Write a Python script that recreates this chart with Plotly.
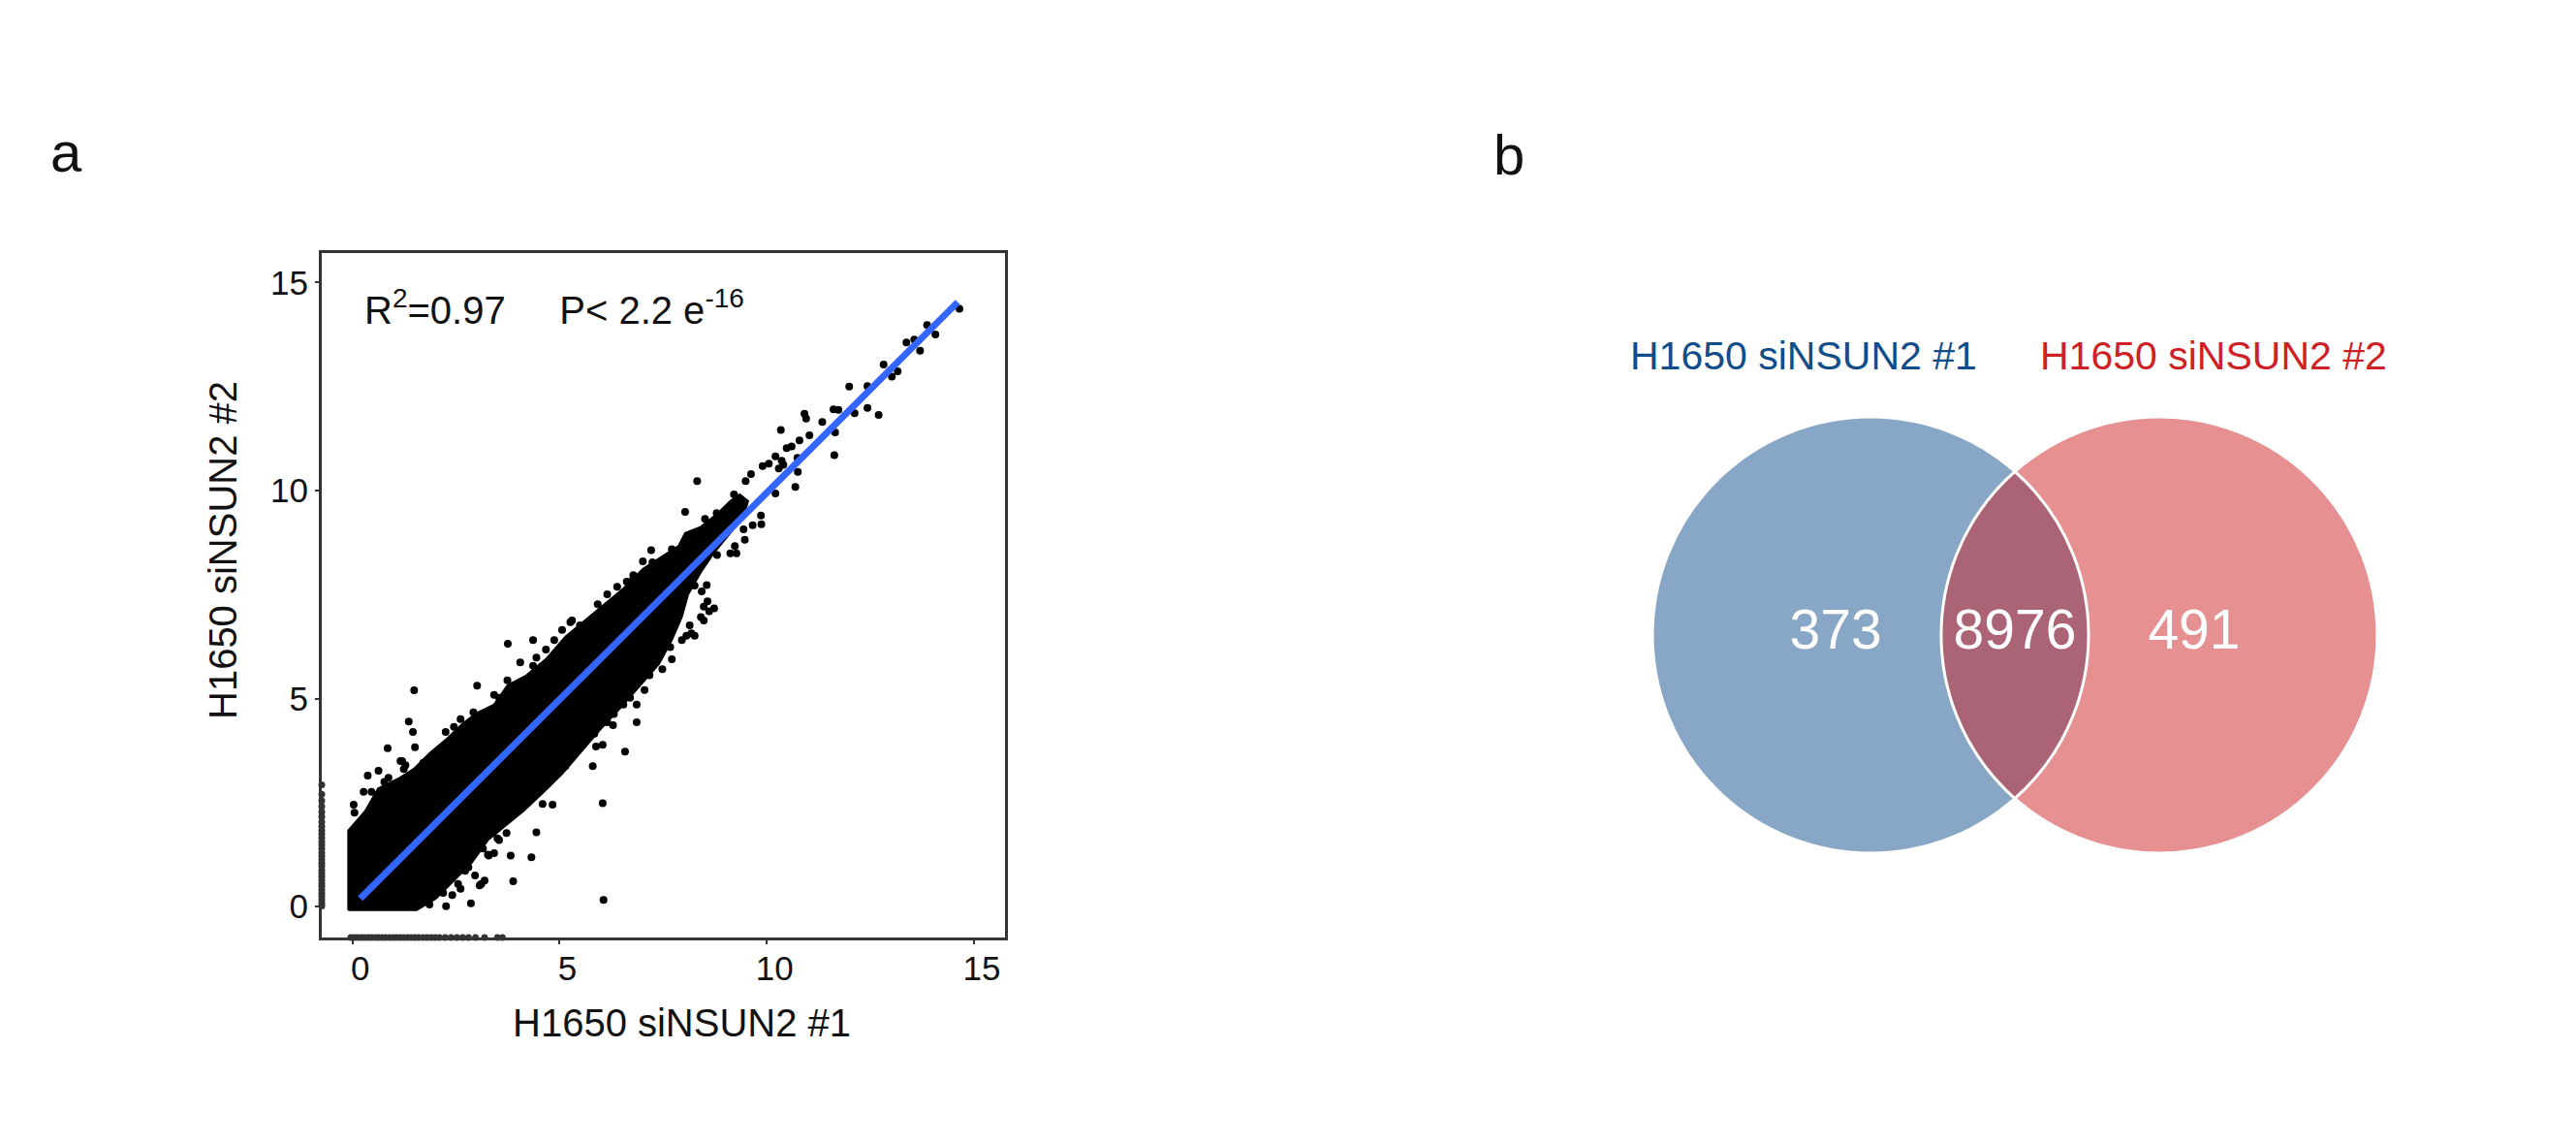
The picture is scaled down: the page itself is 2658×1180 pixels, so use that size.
import plotly.graph_objects as go

W, H = 2658, 1180
FONT = "Liberation Sans, Arial, sans-serif"

# ---------------- panel a: siNSUN2 #1 vs siNSUN2 #2 ----------------
x_title = "H1650 siNSUN2 #1"
y_title = "H1650 siNSUN2 #2"
tick_vals = [0, 5, 10, 15]
x_range = [-0.74, 15.75]
y_range = [-0.74, 15.71]

# outline of the solid black cloud of points (upper and lower side)
cloud_upper_x = [-0.10, -0.10, 0.31, 0.62, 1.09, 1.48, 1.86, 2.25, 2.65, 2.96, 3.42, 3.74, 4.20,
                 4.67, 5.14, 5.61, 6.07, 6.54, 7.01, 7.48, 7.87, 8.03, 8.41, 8.80, 9.12, 9.35, 9.55]
cloud_upper_y = [-0.08, 1.83, 2.30, 2.84, 3.07, 3.31, 3.69, 4.01, 4.39, 4.63, 4.86, 5.32, 5.56,
                 5.95, 6.49, 6.88, 7.27, 7.65, 8.12, 8.43, 8.67, 8.98, 9.13, 9.44, 9.75, 9.91, 9.75]
cloud_lower_x = [-0.10, 1.55, 2.02, 2.49, 2.88, 3.27, 3.70, 4.13, 4.59, 5.06, 5.53, 6.00, 6.47,
                 6.93, 7.40, 7.71, 7.95, 8.10, 8.41, 8.73, 9.04, 9.43, 9.55]
cloud_lower_y = [-0.08, -0.08, 0.20, 0.67, 1.06, 1.60, 1.95, 2.30, 2.73, 3.19, 3.73, 4.28, 4.78,
                 5.29, 5.83, 6.41, 6.96, 7.50, 8.04, 8.51, 8.90, 9.36, 9.75]

# single points outside or on the edge of the solid cloud
outlier_x = [14.65, 13.87, 14.07, 13.37, 13.56, 13.70, 12.82, 13.16, 13.02, 11.99, 12.43, 12.43,
             12.70, 12.12, 11.61, 11.73, 10.91, 10.95, 11.34, 11.03, 11.65, 10.34, 10.79, 10.60,
             10.48, 11.63, 10.21, 9.90, 10.05, 10.36, 10.40, 10.74, 10.75, 10.29, 10.69, 9.62,
             9.49, 10.21, 8.32, 9.21, 8.03, 8.79, 8.51, 9.86, 9.66, 9.87, 9.44, 9.47, 9.12, 9.27,
             8.80, 9.23, 7.21, 8.55, 8.43, 8.26, 8.73, 8.61, 8.48, 8.48, 8.14, 8.06, 8.26, 7.67,
             7.44, 7.01, 6.78,
             1.49, 3.01, 3.75, 4.36, 1.36, 1.46, 0.85, 1.51, 1.16, 1.28, 0.37, 0.63, 0.87, 0.03,
             0.27, 6.86, 7.05, 6.86, 6.29, 6.58, 5.80, 6.04, 5.88, 6.04, 4.59, 4.83, 4.44, 3.82,
             4.32, 3.29, 3.88, 6.06, 2.86, 3.11, 2.45, 2.61, 2.25, 2.02, 5.53, 5.30, 6.78, 6.39,
             6.15, 5.92, 5.30, 5.06,
             0.05, 1.20, 1.32, 1.01, 2.26, 3.19, 2.96, 3.07, 2.72, 2.61, 3.72, 3.54, 3.42, 3.27,
             2.92, 3.11, 3.42, 3.54, 3.74, 3.89, 4.05, 4.36, 4.44, 4.67, 4.87, 5.26, 5.49, 6.62,
             6.78, 7.24, 7.71, 0.46, 0.77, 1.71, 1.24,
             3.50, 3.89, 4.01, 4.36, 4.67, 4.83, 5.14, 5.30, 5.84, 6.15, 6.31, 6.54, 6.70, 7.17,
             7.48, 7.71, 7.95, 8.18, 8.41, 8.57, 1.86, 2.41, 2.19, 2.55, 2.80, 3.15]
outlier_y = [14.37, 13.98, 13.75, 13.56, 13.63, 13.36, 13.03, 12.87, 12.74, 12.50, 12.51, 11.99,
             11.82, 11.86, 11.95, 11.94, 11.85, 11.73, 11.65, 11.33, 11.40, 11.46, 11.21, 11.06,
             11.02, 10.85, 10.82, 10.59, 10.65, 10.72, 10.62, 10.79, 10.45, 10.53, 10.09, 10.40,
             10.23, 9.93, 10.23, 9.91, 9.49, 9.46, 9.32, 9.40, 9.17, 9.19, 9.07, 8.82, 8.49, 8.49,
             8.45, 8.67, 8.57, 7.73, 7.58, 7.72, 7.17, 7.10, 7.21, 6.88, 6.76, 6.51, 6.51, 6.24,
             6.30, 8.30, 7.90,
             5.20, 5.31, 6.32, 6.41, 4.45, 4.20, 3.81, 3.83, 3.50, 3.40, 3.15, 3.27, 3.10, 2.45,
             2.76, 4.86, 5.21, 4.43, 4.36, 3.73, 3.38, 3.89, 3.85, 2.49, 2.47, 2.45, 1.79, 1.23,
             1.19, 1.23, 0.61, 0.16, 0.08, 0.55, 4.32, 4.51, 4.20, 3.66, 4.01, 3.62, 6.80, 7.69,
             7.51, 7.27, 6.88, 6.65,
             2.26, 3.50, 3.11, 2.88, 0.01, 0.63, 0.75, 0.51, 0.86, 0.43, 1.77, 1.60, 1.29, 1.25,
             4.67, 4.63, 5.09, 5.02, 5.44, 5.32, 5.87, 5.79, 5.99, 6.18, 6.41, 6.84, 6.76, 7.81,
             7.97, 8.28, 8.59, 2.76, 3.00, 3.46, 3.31,
             1.64, 2.30, 2.45, 2.76, 2.92, 3.31, 3.38, 3.77, 4.16, 4.43, 4.63, 4.86, 5.02, 5.56,
             5.71, 5.95, 6.41, 6.57, 6.96, 7.34, 0.05, 0.28, 0.33, 0.55, 0.95, 1.40]

# points that only have a value on one axis (drawn on the frame)
left_rug_y = [0.02, 0.09, 0.17, 0.25, 0.32, 0.40, 0.49, 0.56, 0.64, 0.72, 0.80, 0.88, 0.97,
              1.05, 1.13, 1.22, 1.30, 1.39, 1.48, 1.56, 1.65, 1.74, 1.83, 1.93, 2.03, 2.16,
              2.28, 2.41, 2.55, 2.70, 2.93]
bottom_rug_x = [-0.04, 0.04, 0.12, 0.21, 0.29, 0.38, 0.46, 0.55, 0.63, 0.72, 0.80, 0.89, 0.98,
                1.06, 1.15, 1.24, 1.33, 1.42, 1.51, 1.60, 1.70, 1.80, 1.90, 2.00, 2.10, 2.24,
                2.38, 2.52, 2.66, 2.80, 2.97, 3.19, 3.50, 3.62]

# linear fit
fit_x = [0.19, 14.61]
fit_y = [0.20, 14.53]
r_squared = "0.97"
p_value = "2.2 e<sup>-16</sup>"

# ---------------- panel b: Venn diagram ----------------
set_names = ["H1650 siNSUN2 #1", "H1650 siNSUN2 #2"]
only_counts = [373, 491]
shared_count = 8976

SET_COLORS = ["rgb(17,77,139)", "rgb(205,33,37)"]
SET_FILLS = ["rgba(17,77,139,0.5)", "rgba(205,33,37,0.5)"]
FIT_COLOR = "#3366FF"
FRAME = "#333333"

# venn geometry, in units of the circle radius
VENN_OFFSET = 0.662
COUNT_POS = [-0.822, 0.0, 0.822]
NAME_POS = [-0.969, 0.911]
NAME_Y = 1.28

fig = go.Figure()

fig.add_trace(go.Scatter(
    x=cloud_upper_x + cloud_lower_x[::-1], y=cloud_upper_y + cloud_lower_y[::-1],
    mode="lines", fill="toself", fillcolor="black",
    line=dict(color="black", width=2), hoverinfo="skip", showlegend=False,
))
fig.add_trace(go.Scatter(
    x=outlier_x, y=outlier_y, mode="markers",
    marker=dict(color="black", size=8, line=dict(width=0)),
    showlegend=False,
))
fig.add_trace(go.Scatter(
    x=[x_range[0]] * len(left_rug_y), y=left_rug_y, mode="markers",
    marker=dict(color=FRAME, size=7, line=dict(width=0)),
    cliponaxis=False, showlegend=False,
))
fig.add_trace(go.Scatter(
    x=bottom_rug_x, y=[y_range[0]] * len(bottom_rug_x), mode="markers",
    marker=dict(color=FRAME, size=7, line=dict(width=0)),
    cliponaxis=False, showlegend=False,
))
fig.add_trace(go.Scatter(
    x=fit_x, y=fit_y, mode="lines", line=dict(color=FIT_COLOR, width=7),
    showlegend=False,
))

# venn counts
fig.add_trace(go.Scatter(
    x=COUNT_POS, y=[0, 0, 0], mode="text",
    text=[str(only_counts[0]), str(shared_count), str(only_counts[1])],
    textfont=dict(family=FONT, size=57, color="white"),
    xaxis="x2", yaxis="y2", showlegend=False, hoverinfo="skip",
))

axis_common = dict(
    showline=True, mirror=True, linecolor=FRAME, linewidth=3,
    showgrid=False, zeroline=False,
    ticks="outside", ticklen=4, tickwidth=2, tickcolor=FRAME,
    tickvals=tick_vals, tickfont=dict(family=FONT, size=35, color="#111111"),
)

# pixel placement of the panels
ax_left, ax_right, ax_top, ax_bottom = 332, 1037, 261, 967
vn_left, vn_right, vn_top, vn_bottom = 1600, 2560, 300, 940
vn_cx, vn_cy, vn_r = 2079, 655, 225

fig.update_layout(
    width=W, height=H,
    margin=dict(l=0, r=0, t=0, b=0),
    paper_bgcolor="white", plot_bgcolor="white",
    font=dict(family=FONT, color="#111111"),
    xaxis=dict(domain=[ax_left / W, ax_right / W], range=x_range,
               ticklabelshift=8, ticklabelstandoff=-5, **axis_common),
    yaxis=dict(domain=[1 - ax_bottom / H, 1 - ax_top / H], range=y_range, **axis_common),
    xaxis2=dict(domain=[vn_left / W, vn_right / W],
                range=[(vn_left - vn_cx) / vn_r, (vn_right - vn_cx) / vn_r],
                visible=False, anchor="y2"),
    yaxis2=dict(domain=[1 - vn_bottom / H, 1 - vn_top / H],
                range=[-(vn_bottom - vn_cy) / vn_r, (vn_cy - vn_top) / vn_r],
                visible=False, anchor="x2"),
)

# venn circles: fills, then white outlines so the shared lens is edged in white
for sign, fill in zip([-1, 1], SET_FILLS):
    fig.add_shape(type="circle", xref="x2", yref="y2", layer="below",
                  x0=sign * VENN_OFFSET - 1, x1=sign * VENN_OFFSET + 1, y0=-1, y1=1,
                  fillcolor=fill, line=dict(width=0))
for sign in [-1, 1]:
    fig.add_shape(type="circle", xref="x2", yref="y2", layer="below",
                  x0=sign * VENN_OFFSET - 1, x1=sign * VENN_OFFSET + 1, y0=-1, y1=1,
                  fillcolor="rgba(0,0,0,0)", line=dict(color="white", width=3))

for name, pos, color in zip(set_names, NAME_POS, SET_COLORS):
    fig.add_annotation(x=pos, y=NAME_Y, xref="x2", yref="y2", text=name, showarrow=False,
                       xanchor="center", yanchor="middle",
                       font=dict(family=FONT, size=41, color=color))


def paper_text(text, px, py, size, **kw):
    fig.add_annotation(x=px / W, y=1 - py / H, xref="paper", yref="paper", text=text,
                       xanchor="center", yanchor="middle", showarrow=False,
                       font=dict(size=size), **kw)


# axis titles
paper_text(x_title, 703, 1055, 40)
paper_text(y_title, 230, 568, 40, textangle=-90)

# statistics label
fig.add_annotation(
    x=0.24, y=14.4, xref="x", yref="y", xanchor="left", yanchor="middle",
    text=f"R<sup>2</sup>={r_squared}\u00a0\u00a0\u00a0\u00a0\u00a0P< {p_value}",
    showarrow=False, font=dict(size=40),
)

# panel letters
paper_text("a", 68, 157, 58)
paper_text("b", 1557, 159, 58)

fig.write_html("out.html", config={"displayModeBar": False},
               post_script="document.body.style.margin='0';")
